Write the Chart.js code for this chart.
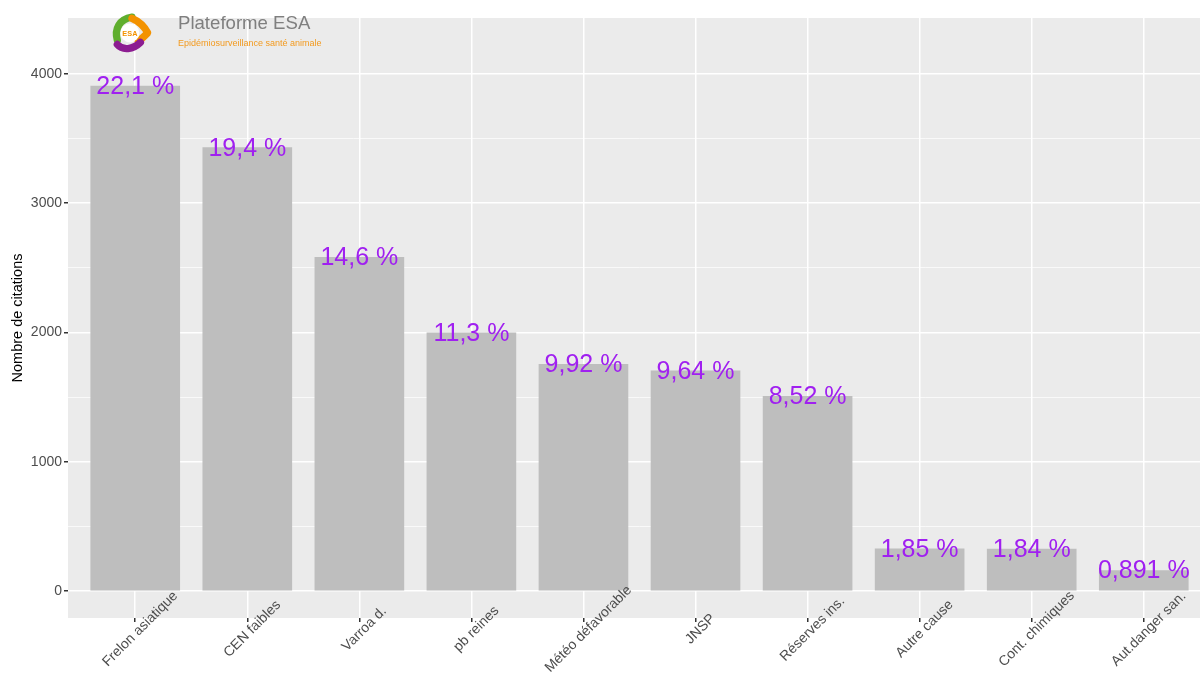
<!DOCTYPE html>
<html>
<head>
<meta charset="utf-8">
<script src="https://cdn.jsdelivr.net/npm/chart.js@4/dist/chart.umd.min.js"></script>
<style>
  html, body { margin: 0; padding: 0; background: #fff; overflow: hidden; }
  #wrap { position: relative; width: 1211px; height: 689px; }
  #logo { position: absolute; left: 110px; top: 12px; }
  .brand { position: absolute; left: 178px; top: 12px; font: 18.6px "Liberation Sans", Arial, sans-serif; color: #7f7f7f; }
  .tagline { position: absolute; left: 178px; top: 38px; font: 9px "Liberation Sans", Arial, sans-serif; color: #f39a1e; }
</style>
</head>
<body>
<div id="wrap">
  <canvas id="chart" width="1211" height="689"></canvas>
  <svg id="logo" width="44" height="44" viewBox="0 0 42 42">
    <path d="M7 27 C4 16 9 7 21 5" fill="none" stroke="#5fae2e" stroke-width="7" stroke-linecap="round"/>
    <path d="M21 6 C28 9 33 14 36 20 C32 24 30 26 27 28" fill="none" stroke="#f39200" stroke-width="7" stroke-linejoin="round" stroke-linecap="round"/>
    <path d="M29 29 C22 36 12 37 7 31" fill="none" stroke="#8c1d91" stroke-width="7" stroke-linecap="round"/>
    <circle cx="19" cy="20" r="9" fill="#fff"/>
    <text x="19" y="23" text-anchor="middle" font-family="Liberation Sans, Arial" font-size="7" font-weight="bold" fill="#f39200">ESA</text>
  </svg>
  <div class="brand">Plateforme ESA</div>
  <div class="tagline">Epidémiosurveillance santé animale</div>
</div>
<script>
  var categories = ['Frelon asiatique', 'CEN faibles', 'Varroa d.', 'pb reines', 'Météo défavorable',
    'JNSP', 'Réserves ins.', 'Autre cause', 'Cont. chimiques', 'Aut.danger san.'];
  var citations = [3907, 3430, 2581, 1998, 1754, 1704, 1506, 327, 325, 158];
  var percentLabels = ['22,1 %', '19,4 %', '14,6 %', '11,3 %', '9,92 %', '9,64 %', '8,52 %', '1,85 %', '1,84 %', '0,891 %'];
  var yTickValues = [0, 500, 1000, 1500, 2000, 2500, 3000, 3500, 4000];

  var FONT = '"Liberation Sans", Arial, sans-serif';

  var panelBg = {
    id: 'panelBg',
    beforeDraw: function(chart) {
      var a = chart.chartArea, ctx = chart.ctx;
      ctx.save();
      ctx.fillStyle = '#ebebeb';
      ctx.fillRect(a.left, a.top, a.right - a.left, a.bottom - a.top);
      ctx.restore();
    }
  };

  var barLabels = {
    id: 'barLabels',
    afterDatasetsDraw: function(chart) {
      var ctx = chart.ctx;
      var meta = chart.getDatasetMeta(0);
      ctx.save();
      ctx.font = '25px ' + FONT;
      ctx.fillStyle = '#a020f0';
      ctx.textAlign = 'center';
      ctx.textBaseline = 'middle';
      meta.data.forEach(function(bar, i) {
        ctx.fillText(percentLabels[i], bar.x, bar.y + 1);
      });
      ctx.restore();
    }
  };

  var xLabels = {
    id: 'xLabels',
    afterDraw: function(chart) {
      var ctx = chart.ctx;
      var xs = chart.scales.x;
      var y = chart.chartArea.bottom + 11;
      ctx.save();
      ctx.font = '14px ' + FONT;
      ctx.fillStyle = '#4d4d4d';
      ctx.textAlign = 'center';
      ctx.textBaseline = 'middle';
      categories.forEach(function(label, i) {
        ctx.save();
        ctx.translate(xs.getPixelForValue(i) + 5, y);
        ctx.rotate(-Math.PI / 4);
        ctx.fillText(label, 0, 0);
        ctx.restore();
      });
      ctx.restore();
    }
  };

  new Chart(document.getElementById('chart'), {
    type: 'bar',
    data: {
      datasets: [{
        data: citations.map(function(v, i) { return { x: i, y: v }; }),
        backgroundColor: '#bebebe',
        borderWidth: 0,
        barThickness: 89
      }]
    },
    options: {
      responsive: false,
      devicePixelRatio: 1,
      animation: false,
      layout: { padding: { top: 18, left: 0, right: 0, bottom: 0 } },
      plugins: { legend: { display: false }, tooltip: { enabled: false } },
      scales: {
        x: {
          type: 'linear',
          offset: false,
          min: -0.6,
          max: 9.6,
          afterBuildTicks: function(s) {
            s.ticks = categories.map(function(c, i) { return { value: i }; });
          },
          afterFit: function(s) { s.height = 71; },
          ticks: { display: false },
          grid: { offset: false, color: '#ffffff', lineWidth: 1.5, tickLength: 4, tickColor: '#333333', drawTicks: true },
          border: { display: false }
        },
        y: {
          min: -209,
          max: 4433,
          afterBuildTicks: function(s) {
            s.ticks = yTickValues.map(function(v) { return { value: v }; });
          },
          afterFit: function(s) { s.width = 68; },
          ticks: {
            font: { size: 14, family: FONT },
            color: '#4d4d4d',
            padding: 2,
            callback: function(v) { return v % 1000 === 0 ? String(v) : ''; }
          },
          grid: {
            color: '#ffffff',
            lineWidth: function(c) { return c.tick && c.tick.value % 1000 === 0 ? 1.5 : 0.7; },
            tickLength: 4,
            tickColor: function(c) { return c.tick && c.tick.value % 1000 === 0 ? '#333333' : 'rgba(0,0,0,0)'; }
          },
          border: { display: false },
          title: {
            display: true,
            text: 'Nombre de citations',
            color: '#000000',
            font: { size: 14.5, family: FONT },
            padding: { top: 9, bottom: 0 }
          }
        }
      }
    },
    plugins: [panelBg, barLabels, xLabels]
  });
</script>
</body>
</html>
